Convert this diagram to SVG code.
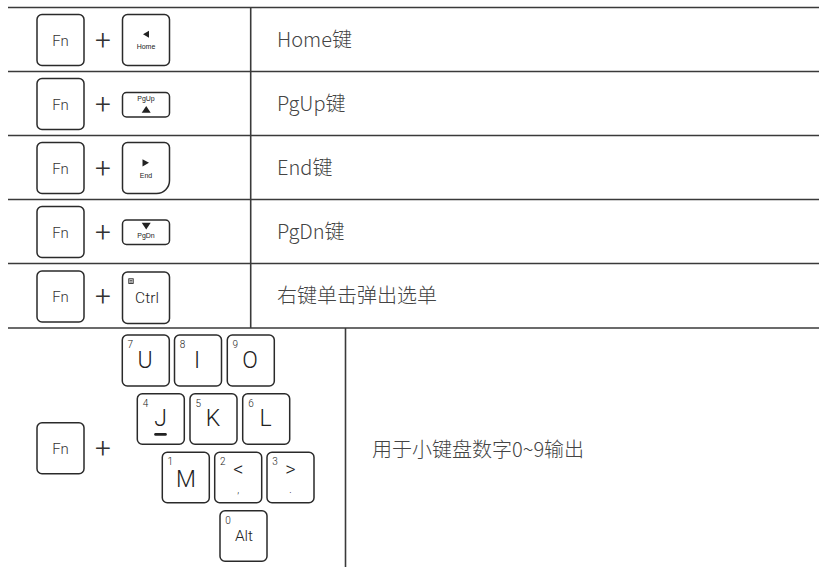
<svg xmlns="http://www.w3.org/2000/svg" width="819" height="567" viewBox="0 0 819 567">
<style>
.grid line{stroke:#3a3a3a;stroke-width:1.6}
.key{fill:#fff;stroke:#2a2a2a;stroke-width:1.5}
.t{font-family:"Roboto","Liberation Sans",sans-serif;font-weight:300;fill:#333}
.lbl{font-family:"Noto Sans CJK SC","Liberation Sans",sans-serif;font-weight:300;font-size:20px;fill:#444}
.fn{font-size:15px;text-anchor:middle}
.plus{font-size:28px;text-anchor:middle}
.small{font-family:"Liberation Sans",sans-serif;font-size:7px;fill:#222;text-anchor:middle}
.num{font-size:10px;fill:#222}
.big{font-size:23px;text-anchor:middle;fill:#222}
.mid{font-size:15.5px;text-anchor:middle;fill:#222}
.sym{font-size:20px;text-anchor:middle;fill:#222}
.pt{font-size:10px;text-anchor:middle;fill:#222}
.icon{fill:#222}
</style>
<rect width="819" height="567" fill="#fff"/>
<g id="grid" class="grid">
<line x1="8" y1="7.5" x2="819" y2="7.5"/>
<line x1="8" y1="71.5" x2="819" y2="71.5"/>
<line x1="8" y1="135.5" x2="819" y2="135.5"/>
<line x1="8" y1="199.5" x2="819" y2="199.5"/>
<line x1="8" y1="263.5" x2="819" y2="263.5"/>
<line x1="8" y1="328" x2="819" y2="328"/>
<line x1="250.7" y1="7.5" x2="250.7" y2="328"/>
<line x1="345.5" y1="328" x2="345.5" y2="567"/>
</g>
<g id="row-home">
<rect class="key" x="37" y="14.5" width="47" height="51" rx="5"/>
<text class="t fn" x="60.5" y="45.5">Fn</text>
<text class="t plus" x="103" y="49.5">+</text>
<rect class="key" x="122.5" y="14.5" width="47" height="51" rx="5"/>
<polygon class="icon" points="143,34.2 149,30.7 149,37.7"/>
<text class="small" x="146" y="49">Home</text>
<text class="lbl" x="277" y="46.5">Home键</text>
</g>
<g id="row-pgup">
<rect class="key" x="37" y="78.5" width="47" height="51" rx="5"/>
<text class="t fn" x="60.5" y="109.5">Fn</text>
<text class="t plus" x="103" y="113.5">+</text>
<rect class="key" x="122.5" y="92.5" width="47" height="24.5" rx="4"/>
<text class="small" x="146" y="100.5">PgUp</text>
<polygon class="icon" points="146.2,106 141.7,112.7 150.7,112.7"/>
<text class="lbl" x="277" y="110.5">PgUp键</text>
</g>
<g id="row-end">
<rect class="key" x="37" y="142.5" width="47" height="51" rx="5"/>
<text class="t fn" x="60.5" y="173.5">Fn</text>
<text class="t plus" x="103" y="177.5">+</text>
<path class="key" d="M127.5,142.5 H164.5 A5,5 0 0 1 169.5,147.5 V180.5 A13,13 0 0 1 156.5,193.5 H127.5 A5,5 0 0 1 122.5,188.5 V147.5 A5,5 0 0 1 127.5,142.5 Z"/>
<polygon class="icon" points="149,162.8 142.5,159.2 142.5,166.4"/>
<text class="small" x="146" y="178">End</text>
<text class="lbl" x="277" y="174.5">End键</text>
</g>
<g id="row-pgdn">
<rect class="key" x="37" y="206.5" width="47" height="51" rx="5"/>
<text class="t fn" x="60.5" y="237.5">Fn</text>
<text class="t plus" x="103" y="241.5">+</text>
<rect class="key" x="122.5" y="220" width="47" height="24.5" rx="4"/>
<polygon class="icon" points="141.7,222.7 150.7,222.7 146.2,229.5"/>
<text class="small" x="146" y="238.3">PgDn</text>
<text class="lbl" x="277" y="238.5">PgDn键</text>
</g>
<g id="row-menu">
<rect class="key" x="37" y="271" width="47" height="51" rx="5"/>
<text class="t fn" x="60.5" y="302">Fn</text>
<text class="t plus" x="103" y="306">+</text>
<rect class="key" x="122.5" y="272" width="47" height="51.5" rx="5"/>
<rect x="128.8" y="278.8" width="4.4" height="4.6" fill="none" stroke="#222" stroke-width="0.9"/>
<line x1="129.6" y1="280.4" x2="132.4" y2="280.4" stroke="#222" stroke-width="0.8"/>
<line x1="129.6" y1="282" x2="132.4" y2="282" stroke="#222" stroke-width="0.8"/>
<text class="t mid" x="147" y="302.7">Ctrl</text>
<text class="lbl" x="277" y="302.5">右键单击弹出选单</text>
</g>
<g id="row-numpad">
<rect class="key" x="37" y="422.7" width="47" height="51" rx="5"/>
<text class="t fn" x="60.5" y="454">Fn</text>
<text class="t plus" x="103" y="458">+</text>
<text class="lbl" x="372" y="456.5">用于小键盘数字0~9输出</text>
</g>
<g id="key-u"><rect class="key" x="122.3" y="335" width="47" height="51" rx="5"/><text class="t num" x="127.5" y="348.3">7</text><text class="t big" x="145" y="367.7">U</text></g>
<g id="key-i"><rect class="key" x="174.5" y="335" width="47" height="51" rx="5"/><text class="t num" x="179.7" y="348.3">8</text><text class="t big" x="197" y="367.7">I</text></g>
<g id="key-o"><rect class="key" x="227.3" y="335" width="47" height="51" rx="5"/><text class="t num" x="232.5" y="348.3">9</text><text class="t big" x="250" y="367.7">O</text></g>
<g id="key-j"><rect class="key" x="137.3" y="393.7" width="47" height="50.5" rx="5"/><text class="t num" x="142.8" y="406.5">4</text><text class="t big" x="160.5" y="426">J</text><line x1="155.5" y1="434.4" x2="165.5" y2="434.4" stroke="#222" stroke-width="2.6" stroke-linecap="round"/></g>
<g id="key-k"><rect class="key" x="190" y="393.7" width="47" height="50.5" rx="5"/><text class="t num" x="195.5" y="406.5">5</text><text class="t big" x="213" y="426">K</text></g>
<g id="key-l"><rect class="key" x="242.7" y="393.7" width="47" height="50.5" rx="5"/><text class="t num" x="248.2" y="406.5">6</text><text class="t big" x="265.5" y="426">L</text></g>
<g id="key-m"><rect class="key" x="162.3" y="452.3" width="47" height="50.5" rx="5"/><text class="t num" x="167.5" y="465">1</text><text class="t big" x="186" y="486.7">M</text></g>
<g id="key-comma"><rect class="key" x="214.7" y="452.3" width="47" height="50.5" rx="5"/><text class="t num" x="220" y="465">2</text><text class="t sym" x="238.3" y="476">&lt;</text><text class="t pt" x="238.3" y="493">,</text></g>
<g id="key-period"><rect class="key" x="267" y="452.3" width="47" height="50.5" rx="5"/><text class="t num" x="272.2" y="465">3</text><text class="t sym" x="290.5" y="476">&gt;</text><text class="t pt" x="290.5" y="493">.</text></g>
<g id="key-alt"><rect class="key" x="220" y="510.7" width="47" height="50.5" rx="5"/><text class="t num" x="225.3" y="523.5">0</text><text class="t mid" x="244" y="540.7">Alt</text></g>
</svg>
